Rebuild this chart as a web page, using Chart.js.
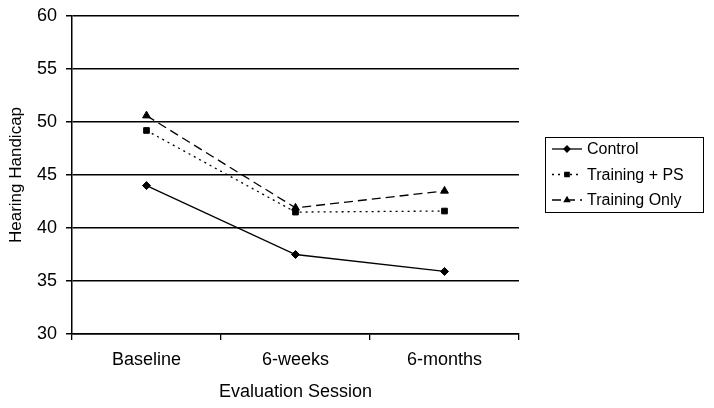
<!DOCTYPE html>
<html>
<head>
<meta charset="utf-8">
<script src="https://cdn.jsdelivr.net/npm/chart.js@4.4.1/dist/chart.umd.min.js"></script>
<style>
  html, body { margin: 0; padding: 0; background: #fff; }
  #wrap { width: 714px; height: 408px; }
</style>
</head>
<body>
<div id="wrap"><canvas id="chart"></canvas></div>
<script>
const sessions = ["Baseline", "6-weeks", "6-months"];
const control = [44.0, 37.5, 35.9];
const trainingPS = [49.2, 41.5, 41.6];
const trainingOnly = [50.6, 41.9, 43.5];
const seriesNames = ["Control", "Training + PS", "Training Only"];

const FONT = "'Liberation Sans', Arial, sans-serif";

// draws the boxed legend on the right with a line sample + marker per series
const sideLegend = {
  id: "sideLegend",
  afterDraw(chart) {
    const ctx = chart.ctx;
    const box = { x: 545.5, y: 137.5, w: 158, h: 75 };
    ctx.save();
    ctx.strokeStyle = "#000";
    ctx.lineWidth = 1;
    ctx.strokeRect(box.x, box.y, box.w, box.h);
    ctx.font = "16px " + FONT;
    ctx.fillStyle = "#000";
    ctx.textBaseline = "middle";
    chart.data.datasets.forEach((ds, i) => {
      const y = 149 + i * 25.5;
      ctx.beginPath();
      ctx.setLineDash(ds.borderDash || []);
      ctx.lineWidth = ds.borderWidth;
      ctx.moveTo(552, y);
      ctx.lineTo(582, y);
      ctx.stroke();
      ctx.setLineDash([]);
      Chart.helpers.drawPoint(ctx, { pointStyle: ds.pointStyle, radius: 3, borderWidth: 1 }, 567, y);
      ctx.fill();
      ctx.fillText(ds.label, 587, y + 1);
    });
    ctx.restore();
  }
};

function makeSet(label, data, dash, style, radius) {
  return {
    label,
    data,
    borderColor: "#000",
    backgroundColor: "#000",
    borderWidth: 1.3,
    borderDash: dash,
    pointStyle: style,
    pointRadius: radius,
    pointBorderWidth: 1,
    tension: 0
  };
}

new Chart(document.getElementById("chart"), {
  type: "line",
  data: {
    labels: sessions,
    datasets: [
      makeSet(seriesNames[0], control, [], "rectRot", 4),
      makeSet(seriesNames[1], trainingPS, [2, 4], "rect", 4),
      makeSet(seriesNames[2], trainingOnly, [9, 5], "triangle", 4.5)
    ]
  },
  options: {
    responsive: true,
    maintainAspectRatio: false,
    animation: false,
    layout: { padding: { left: 4, right: 195, top: 16, bottom: 0 } },
    plugins: {
      legend: { display: false },
      tooltip: { enabled: false }
    },
    scales: {
      x: {
        offset: true,
        grid: {
          offset: true,
          drawOnChartArea: false,
          drawTicks: true,
          tickLength: 6,
          color: "#000",
          lineWidth: 1.3
        },
        border: { color: "#000", width: 1.5 },
        ticks: { color: "#000", font: { family: FONT, size: 18 }, padding: 9 },
        title: {
          display: true,
          text: "Evaluation Session",
          color: "#000",
          font: { family: FONT, size: 18 },
          padding: { top: 6, bottom: 5 }
        },
        afterFit(scale) { scale.height = 74; }
      },
      y: {
        min: 30,
        max: 60,
        ticks: { stepSize: 5, color: "#000", font: { family: FONT, size: 18 }, padding: 9 },
        grid: { color: "#000", lineWidth: 1.5, tickLength: 6 },
        border: { color: "#000", width: 1.5 },
        title: {
          display: true,
          text: "Hearing Handicap",
          color: "#000",
          font: { family: FONT, size: 17 },
          padding: { top: 2, bottom: 2 }
        },
        afterFit(scale) {
          scale.width = 68;
          scale.paddingTop = 0;
          scale.paddingBottom = 0;
        }
      }
    }
  },
  plugins: [sideLegend]
});
</script>
</body>
</html>
